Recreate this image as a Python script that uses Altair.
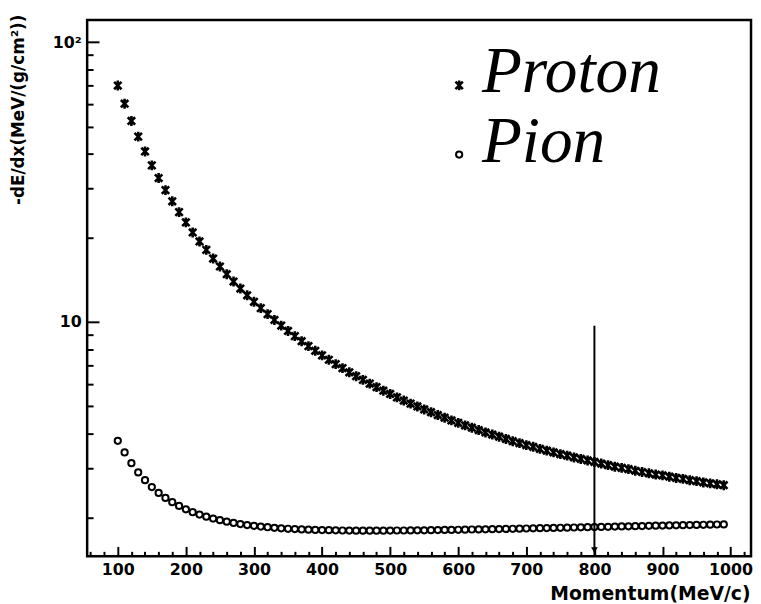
import altair as alt
import pandas as pd

# ---------------- data ----------------
momentum = [100, 110, 120, 130, 140, 150, 160, 170, 180, 190,
            200, 210, 220, 230, 240, 250, 260, 270, 280, 290,
            300, 310, 320, 330, 340, 350, 360, 370, 380, 390,
            400, 410, 420, 430, 440, 450, 460, 470, 480, 490,
            500, 510, 520, 530, 540, 550, 560, 570, 580, 590,
            600, 610, 620, 630, 640, 650, 660, 670, 680, 690,
            700, 710, 720, 730, 740, 750, 760, 770, 780, 790,
            800, 810, 820, 830, 840, 850, 860, 870, 880, 890,
            900, 910, 920, 930, 940, 950, 960, 970, 980, 990]

proton = [70.0, 60.3, 52.3, 46.0, 40.7, 36.3, 32.7, 29.6, 27.0, 24.7,
          22.7, 20.9, 19.4, 18.1, 16.86, 15.79, 14.82, 13.95, 13.17, 12.46,
          11.81, 11.21, 10.67, 10.17, 9.71, 9.29, 8.90, 8.54, 8.20, 7.89,
          7.60, 7.33, 7.07, 6.84, 6.61, 6.40, 6.21, 6.02, 5.85, 5.68,
          5.53, 5.38, 5.24, 5.11, 4.99, 4.87, 4.76, 4.65, 4.55, 4.45,
          4.36, 4.27, 4.19, 4.11, 4.03, 3.96, 3.89, 3.82, 3.75, 3.69,
          3.63, 3.58, 3.52, 3.47, 3.42, 3.37, 3.33, 3.28, 3.24, 3.20,
          3.16, 3.12, 3.08, 3.04, 3.01, 2.98, 2.94, 2.91, 2.88, 2.85,
          2.83, 2.80, 2.77, 2.75, 2.72, 2.70, 2.67, 2.65, 2.63, 2.61]

pion = [3.76, 3.42, 3.13, 2.90, 2.72, 2.57, 2.45, 2.35, 2.27, 2.20,
        2.14, 2.09, 2.05, 2.015, 1.984, 1.957, 1.934, 1.914, 1.896, 1.881,
        1.868, 1.857, 1.847, 1.838, 1.830, 1.824, 1.819, 1.814, 1.810, 1.807,
        1.804, 1.802, 1.800, 1.798, 1.797, 1.796, 1.796, 1.796, 1.796, 1.796,
        1.797, 1.798, 1.798, 1.799, 1.800, 1.801, 1.803, 1.804, 1.806, 1.807,
        1.809, 1.811, 1.813, 1.814, 1.816, 1.818, 1.820, 1.822, 1.824, 1.826,
        1.828, 1.830, 1.832, 1.835, 1.837, 1.839, 1.841, 1.843, 1.846, 1.848,
        1.850, 1.852, 1.854, 1.857, 1.859, 1.861, 1.863, 1.865, 1.868, 1.870,
        1.872, 1.874, 1.876, 1.879, 1.881, 1.883, 1.885, 1.887, 1.889, 1.891]

series_names = ["Proton", "Pion"]

x_major_ticks = [100, 200, 300, 400, 500, 600, 700, 800, 900, 1000]
x_minor_ticks = [60, 80, 120, 140, 160, 180, 220, 240, 260, 280, 320, 340, 360, 380,
                 420, 440, 460, 480, 520, 540, 560, 580, 620, 640, 660, 680,
                 720, 740, 760, 780, 820, 840, 860, 880, 920, 940, 960, 980, 1020]
y_major_ticks = [10, 100]
y_minor_ticks = [2, 3, 4, 5, 6, 7, 8, 9, 20, 30, 40, 50, 60, 70, 80, 90]

x_domain = [55, 1030]
y_domain = [1.454, 120]

arrow_x = [800]
arrow_top = [9.7]
arrow_bottom = [1.454]
arrow_head = [1.53]

x_title = "Momentum(MeV/c)"
y_title = "-dE/dx(MeV/(g/cm²))"

# ---------------- chart ----------------
df = pd.DataFrame({"p": momentum, "proton": proton, "pion": pion})
arrow_df = pd.DataFrame({"x": arrow_x, "y": arrow_top, "y2": arrow_bottom, "head": arrow_head})

xs = alt.Scale(domain=x_domain, nice=False, zero=False)
ys = alt.Scale(type="log", domain=y_domain, nice=False)

FONT = "DejaVu Sans"
ASTERISK = "M0,-1L0,1M-0.75,-0.75L0.75,0.75M-0.75,0.75L0.75,-0.75"

x_major_axis = alt.Axis(
    values=x_major_ticks, orient="bottom", tickSize=10, offset=-10, tickWidth=2,
    tickColor="black", domain=False, grid=False,
    labelFont=FONT, labelFontSize=16, labelFontWeight="bold", labelColor="black",
    labelPadding=5, labelFlush=False, labelOverlap=False, format="d",
    title=x_title, titleFont=FONT, titleFontSize=19, titleFontWeight="bold",
    titleColor="black", titleX=670, titleY=54, titleAlign="right",
    titleBaseline="alphabetic",
)
x_minor_axis = alt.Axis(
    values=x_minor_ticks, orient="bottom", tickSize=5, offset=-5, tickWidth=2,
    tickColor="black", domain=False, grid=False, labels=False, title=None,
)
y_major_axis = alt.Axis(
    values=y_major_ticks, orient="left", tickSize=12, offset=-12, tickWidth=2,
    tickColor="black", domain=False, grid=False,
    labelFont=FONT, labelFontSize=16, labelFontWeight="bold", labelColor="black",
    labelPadding=6, labelFlush=False, labelOverlap=False, labelBaseline="middle",
    labelExpr="datum.value == 100 ? '10²' : '10\u2002'",
    title=y_title, titleFont=FONT, titleFontSize=17, titleFontWeight="bold",
    titleColor="black", titleAngle=270, titleX=-76, titleY=-6,
    titleAlign="right", titleBaseline="alphabetic",
)
y_minor_axis = alt.Axis(
    values=y_minor_ticks, orient="left", tickSize=6, offset=-6, tickWidth=2,
    tickColor="black", domain=False, grid=False, labels=False, title=None,
)

P_SIZE = 100
C_SIZE = 40

proton_layer = alt.Chart(df).mark_point(
    shape=ASTERISK, size=P_SIZE, strokeWidth=2.6, color="black", filled=False, opacity=1
).encode(
    x=alt.X("p:Q", scale=xs, axis=x_major_axis),
    y=alt.Y("proton:Q", scale=ys, axis=y_major_axis),
)

pion_layer = alt.Chart(df).mark_point(
    shape="circle", size=C_SIZE, strokeWidth=2, color="black", filled=False, opacity=1
).encode(
    x=alt.X("p:Q", scale=xs, axis=x_minor_axis),
    y=alt.Y("pion:Q", scale=ys, axis=y_minor_axis),
)

arrow_line = alt.Chart(arrow_df).mark_rule(color="black", strokeWidth=2).encode(
    x=alt.X("x:Q", scale=xs, axis=None),
    y=alt.Y("y:Q", scale=ys, axis=None),
    y2="y2:Q",
)
arrow_tip = alt.Chart(arrow_df).mark_point(
    shape="triangle-down", size=45, filled=True, color="black", opacity=1
).encode(
    x=alt.X("x:Q", scale=xs, axis=None),
    y=alt.Y("head:Q", scale=ys, axis=None),
)

legend_font = dict(font="Liberation Serif", fontStyle="italic", fontSize=66,
                   align="left", baseline="alphabetic", color="black")

leg_p_text = alt.Chart(pd.DataFrame({"name": [series_names[0]]})).mark_text(**legend_font).encode(
    text="name:N", x=alt.value(399), y=alt.value(73))
leg_pi_text = alt.Chart(pd.DataFrame({"name": [series_names[1]]})).mark_text(**legend_font).encode(
    text="name:N", x=alt.value(399), y=alt.value(143))
leg_p_sym = alt.Chart(pd.DataFrame({"name": [series_names[0]]})).mark_point(
    shape=ASTERISK, size=P_SIZE, strokeWidth=2.6, color="black", filled=False, opacity=1
).encode(x=alt.value(376), y=alt.value(66))
leg_pi_sym = alt.Chart(pd.DataFrame({"name": [series_names[1]]})).mark_point(
    shape="circle", size=C_SIZE, strokeWidth=2, color="black", filled=False, opacity=1
).encode(x=alt.value(376), y=alt.value(136))

chart = alt.layer(
    proton_layer, pion_layer, arrow_line, arrow_tip,
    leg_p_text, leg_pi_text, leg_p_sym, leg_pi_sym,
).resolve_axis(
    x="independent", y="independent"
).properties(
    width=671, height=542,
    autosize=alt.AutoSizeParams(type="none"),
    padding={"left": 80, "top": 9, "right": 2, "bottom": 44},
    background="white",
).configure_view(
    stroke="black", strokeWidth=2.5
)

chart.save("out.html", embed_options={"renderer": "svg", "actions": False})
